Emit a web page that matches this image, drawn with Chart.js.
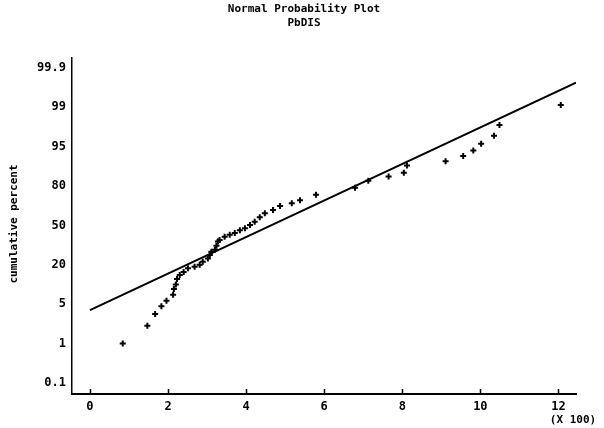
<!DOCTYPE html>
<html>
<head>
<meta charset="utf-8">
<script src="https://cdn.jsdelivr.net/npm/chart.js@4.4.1/dist/chart.umd.min.js"></script>
<style>
  html, body { margin: 0; padding: 0; background: #fff; }
</style>
</head>
<body>
<canvas id="plot" width="604" height="428"></canvas>
<script>
// values, x in hundreds
const sampleX = [0.84, 1.47, 1.67, 1.83, 1.96, 2.13, 2.15, 2.20, 2.23, 2.30, 2.40, 2.51, 2.68, 2.81,
    2.89, 3.02, 3.07, 3.11, 3.20, 3.24, 3.28, 3.32, 3.45, 3.58, 3.71, 3.84, 3.97, 4.10, 4.22, 4.35,
    4.48, 4.69, 4.87, 5.17, 5.38, 5.79, 6.79, 7.13, 7.65, 8.04, 8.12, 9.11, 9.56, 9.82, 10.02,
    10.35, 10.49, 12.06];
const samplePercent = [1.0, 2.8, 4.0, 4.8, 6.3, 8.6, 10.8, 12.5, 14.6, 16.1, 17.3, 18.7, 19.3, 20.0,
    22.4, 24.8, 27.5, 29.9, 31.4, 34.5, 37.7, 38.9, 41.3, 42.8, 44.3, 46.4, 47.9, 50.3, 52.7, 56.3,
    59.3, 61.7, 64.7, 66.8, 69.2, 73.4, 78.6, 82.0, 83.6, 85.1, 87.8, 89.4, 91.4, 93.5, 95.3,
    96.1, 97.2, 99.05];

// reference line end points
const fitX = [0, 12.45];
const fitPercent = [4.4, 99.56];

// axis labels
const percentLevels = [0.1, 1, 5, 20, 50, 80, 95, 99, 99.9];
const percentLabels = ['0.1', '1', '5', '20', '50', '80', '95', '99', '99.9'];
const xTicks = [0, 2, 4, 6, 8, 10, 12];

// the probability axis puts its labels at even steps
function toAxis(p) {
    for (let i = 0; i < percentLevels.length - 1; i++) {
        if (p <= percentLevels[i + 1]) {
            return i + (p - percentLevels[i]) / (percentLevels[i + 1] - percentLevels[i]);
        }
    }
    return percentLevels.length - 1;
}

const monoFont = '"DejaVu Sans Mono", "Liberation Mono", monospace';

const textPlugin = {
    id: 'texts',
    afterDraw(chart) {
        const ctx = chart.ctx;
        const xs = chart.scales.x;
        const area = chart.chartArea;
        ctx.save();
        ctx.strokeStyle = '#000';
        ctx.lineWidth = 1.5;
        // little upward ticks on the x axis
        xTicks.forEach(v => {
            const px = Math.round(xs.getPixelForValue(v)) + 0.5;
            ctx.beginPath();
            ctx.moveTo(px, area.bottom);
            ctx.lineTo(px, area.bottom - 5);
            ctx.stroke();
        });
        ctx.fillStyle = '#000';
        ctx.font = 'bold 11px ' + monoFont;
        ctx.textAlign = 'center';
        ctx.textBaseline = 'middle';
        ctx.fillText('Normal Probability Plot', 304, 9);
        ctx.fillText('PbDIS', 304, 23);
        ctx.fillText('(X 100)', 573, 420);
        ctx.translate(14, 224);
        ctx.rotate(-Math.PI / 2);
        ctx.fillText('cumulative percent', 0, 0);
        ctx.restore();
    }
};

const points = sampleX.map((x, i) => ({ x: x, y: toAxis(samplePercent[i]) }));
const fitLine = fitX.map((x, i) => ({ x: x, y: toAxis(fitPercent[i]) }));

new Chart(document.getElementById('plot'), {
    type: 'scatter',
    data: {
        datasets: [{
            label: 'fit',
            data: fitLine,
            showLine: true,
            borderColor: '#000',
            borderWidth: 2,
            pointRadius: 0
        }, {
            label: 'PbDIS',
            data: points,
            pointStyle: 'cross',
            pointRadius: 3,
            pointBorderWidth: 2,
            borderColor: '#000',
            backgroundColor: '#000'
        }]
    },
    options: {
        responsive: false,
        animation: false,
        layout: { padding: { top: 58, right: 28, bottom: 0, left: 0 } },
        plugins: {
            legend: { display: false },
            tooltip: { enabled: false }
        },
        scales: {
            x: {
                type: 'linear',
                min: -0.46,
                max: 12.45,
                afterBuildTicks: s => { s.ticks = xTicks.map(v => ({ value: v })); },
                afterFit: s => { s.height = 34; },
                grid: { display: false, drawTicks: false },
                border: { display: true, color: '#000', width: 2 },
                ticks: {
                    color: '#000',
                    padding: 6,
                    maxRotation: 0,
                    font: { family: monoFont, size: 12, weight: 'bold' }
                }
            },
            y: {
                type: 'linear',
                min: -0.28,
                max: 8.25,
                afterBuildTicks: s => { s.ticks = percentLabels.map((t, i) => ({ value: i })); },
                afterFit: s => { s.width = 72; },
                grid: { display: false, drawTicks: false },
                border: { display: true, color: '#000', width: 1.5 },
                ticks: {
                    color: '#000',
                    padding: 6,
                    callback: v => percentLabels[v],
                    font: { family: monoFont, size: 12, weight: 'bold' }
                }
            }
        }
    },
    plugins: [textPlugin]
});
</script>
</body>
</html>
